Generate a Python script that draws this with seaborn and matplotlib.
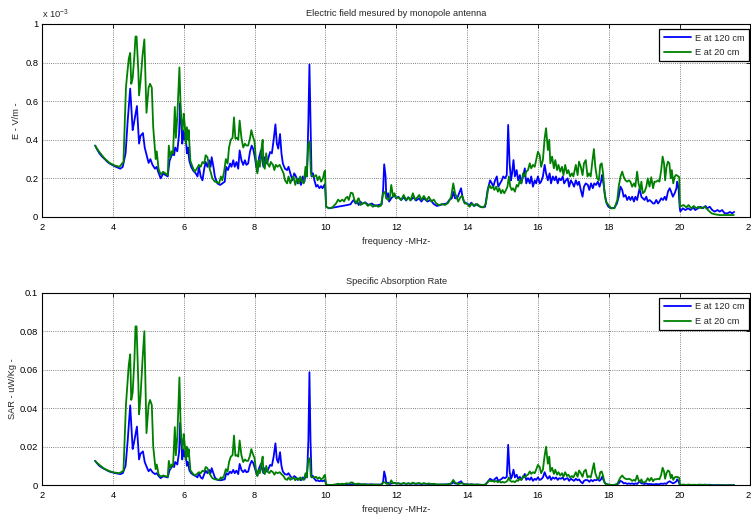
import matplotlib
matplotlib.use("Agg")
import matplotlib.pyplot as plt
from matplotlib.ticker import FuncFormatter
import seaborn as sns
import pandas as pd

# ---------------- data ----------------
blue_freq = [
    3.50, 3.55, 3.62, 3.70, 3.77, 3.85, 3.91, 4.05, 4.21, 4.28,
    4.36, 4.42, 4.49, 4.56, 4.59, 4.68, 4.74, 4.78, 4.85, 4.90,
    4.97, 5.01, 5.06, 5.12, 5.19, 5.24, 5.28, 5.35, 5.42, 5.49,
    5.55, 5.60, 5.64, 5.69, 5.73, 5.76, 5.82, 5.87, 5.90, 5.93,
    5.96, 5.98, 6.02, 6.05, 6.09, 6.12, 6.16, 6.21, 6.27, 6.34,
    6.39, 6.43, 6.48, 6.53, 6.58, 6.62, 6.67, 6.72, 6.76, 6.79,
    6.84, 6.88, 6.95, 7.03, 7.09, 7.16, 7.20, 7.25, 7.31, 7.35,
    7.40, 7.44, 7.49, 7.54, 7.58, 7.63, 7.68, 7.73, 7.77, 7.82,
    7.87, 7.92, 7.96, 8.01, 8.05, 8.08, 8.13, 8.18, 8.22, 8.25,
    8.29, 8.35, 8.40, 8.44, 8.49, 8.54, 8.59, 8.63, 8.67, 8.72,
    8.76, 8.80, 8.86, 8.92, 8.96, 9.01, 9.07, 9.12, 9.17, 9.22,
    9.26, 9.31, 9.36, 9.41, 9.44, 9.48, 9.52, 9.55, 9.58, 9.61,
    9.65, 9.69, 9.74, 9.78, 9.83, 9.88, 9.92, 9.97, 9.99, 10.02,
    10.11, 10.20, 10.34, 10.48, 10.62, 10.71, 10.76, 10.80, 10.85, 10.90,
    10.94, 10.99, 11.03, 11.12, 11.22, 11.31, 11.40, 11.49, 11.59, 11.63,
    11.66, 11.70, 11.72, 11.77, 11.80, 11.86, 11.94, 12.00, 12.06, 12.14,
    12.21, 12.28, 12.34, 12.41, 12.49, 12.56, 12.64, 12.71, 12.78, 12.88,
    12.97, 13.06, 13.15, 13.24, 13.34, 13.43, 13.50, 13.57, 13.61, 13.66,
    13.72, 13.83, 13.87, 13.91, 13.98, 14.07, 14.12, 14.19, 14.25, 14.33,
    14.42, 14.51, 14.58, 14.65, 14.70, 14.74, 14.79, 14.84, 14.88, 14.93,
    14.98, 15.02, 15.07, 15.12, 15.16, 15.20, 15.24, 15.27, 15.31, 15.35,
    15.40, 15.44, 15.49, 15.53, 15.58, 15.63, 15.67, 15.72, 15.77, 15.81,
    15.86, 15.91, 15.95, 16.00, 16.05, 16.09, 16.14, 16.19, 16.23, 16.28,
    16.33, 16.37, 16.42, 16.47, 16.51, 16.56, 16.60, 16.65, 16.70, 16.74,
    16.79, 16.84, 16.88, 16.93, 16.98, 17.02, 17.07, 17.12, 17.16, 17.21,
    17.26, 17.30, 17.35, 17.41, 17.45, 17.50, 17.55, 17.59, 17.64, 17.69,
    17.74, 17.78, 17.81, 17.85, 17.90, 17.94, 17.99, 18.07, 18.16, 18.23,
    18.28, 18.33, 18.38, 18.42, 18.47, 18.52, 18.57, 18.61, 18.66, 18.71,
    18.75, 18.80, 18.87, 18.92, 18.96, 19.01, 19.06, 19.10, 19.15, 19.20,
    19.25, 19.29, 19.34, 19.39, 19.43, 19.48, 19.53, 19.58, 19.62, 19.67,
    19.72, 19.76, 19.81, 19.86, 19.91, 19.93, 19.97, 20.00, 20.02, 20.09,
    20.16, 20.24, 20.31, 20.38, 20.44, 20.52, 20.59, 20.66, 20.73, 20.78,
    20.85, 20.92, 20.99, 21.07, 21.13, 21.20, 21.27, 21.35, 21.42, 21.48,
    21.54,
]
# E field at 120 cm, in units of 1e-3 V/m
blue_E = [
    0.370, 0.352, 0.330, 0.312, 0.300, 0.285, 0.277, 0.263, 0.250, 0.260,
    0.330, 0.500, 0.665, 0.450, 0.480, 0.575, 0.380, 0.420, 0.435, 0.360,
    0.310, 0.280, 0.300, 0.270, 0.250, 0.260, 0.234, 0.200, 0.225, 0.217,
    0.210, 0.290, 0.310, 0.330, 0.320, 0.360, 0.340, 0.430, 0.590, 0.500,
    0.380, 0.450, 0.400, 0.440, 0.330, 0.360, 0.290, 0.260, 0.240, 0.226,
    0.210, 0.260, 0.210, 0.190, 0.250, 0.285, 0.260, 0.294, 0.260, 0.310,
    0.260, 0.210, 0.174, 0.166, 0.174, 0.183, 0.260, 0.243, 0.277, 0.260,
    0.294, 0.260, 0.285, 0.250, 0.345, 0.294, 0.270, 0.294, 0.270, 0.277,
    0.337, 0.370, 0.354, 0.310, 0.260, 0.234, 0.310, 0.345, 0.294, 0.260,
    0.310, 0.277, 0.310, 0.337, 0.330, 0.400, 0.480, 0.380, 0.354, 0.430,
    0.330, 0.277, 0.250, 0.243, 0.260, 0.226, 0.190, 0.226, 0.210, 0.174,
    0.200, 0.166, 0.210, 0.183, 0.226, 0.210, 0.500, 0.790, 0.500, 0.210,
    0.226, 0.190, 0.157, 0.166, 0.149, 0.160, 0.149, 0.166, 0.170, 0.053,
    0.045, 0.048, 0.053, 0.057, 0.062, 0.066, 0.080, 0.088, 0.070, 0.080,
    0.062, 0.080, 0.067, 0.076, 0.062, 0.070, 0.057, 0.062, 0.066, 0.140,
    0.273, 0.210, 0.097, 0.123, 0.080, 0.097, 0.114, 0.097, 0.105, 0.088,
    0.102, 0.085, 0.102, 0.088, 0.102, 0.085, 0.097, 0.080, 0.097, 0.080,
    0.088, 0.067, 0.057, 0.062, 0.067, 0.070, 0.088, 0.097, 0.130, 0.097,
    0.097, 0.149, 0.105, 0.080, 0.070, 0.062, 0.074, 0.057, 0.067, 0.057,
    0.050, 0.053, 0.140, 0.190, 0.174, 0.157, 0.190, 0.210, 0.157, 0.174,
    0.190, 0.210, 0.200, 0.217, 0.477, 0.278, 0.190, 0.226, 0.295, 0.210,
    0.243, 0.190, 0.217, 0.174, 0.210, 0.252, 0.174, 0.200, 0.174, 0.210,
    0.157, 0.190, 0.174, 0.210, 0.174, 0.183, 0.210, 0.270, 0.226, 0.190,
    0.226, 0.174, 0.210, 0.190, 0.210, 0.174, 0.200, 0.190, 0.210, 0.174,
    0.190, 0.200, 0.157, 0.190, 0.174, 0.157, 0.190, 0.166, 0.183, 0.140,
    0.105, 0.157, 0.174, 0.166, 0.140, 0.174, 0.149, 0.174, 0.166, 0.183,
    0.157, 0.183, 0.218, 0.174, 0.105, 0.070, 0.053, 0.045, 0.048, 0.070,
    0.105, 0.157, 0.140, 0.105, 0.114, 0.088, 0.105, 0.088, 0.105, 0.080,
    0.105, 0.088, 0.149, 0.105, 0.097, 0.088, 0.105, 0.080, 0.088, 0.080,
    0.070, 0.070, 0.088, 0.070, 0.080, 0.097, 0.088, 0.105, 0.088, 0.131,
    0.149, 0.131, 0.105, 0.123, 0.149, 0.183, 0.149, 0.053, 0.028, 0.045,
    0.036, 0.045, 0.036, 0.050, 0.036, 0.045, 0.053, 0.045, 0.057, 0.045,
    0.053, 0.036, 0.028, 0.036, 0.028, 0.036, 0.019, 0.019, 0.026, 0.019,
    0.026,
]
# SAR for E at 120 cm (uW/Kg)
blue_SAR = [
    .0127, .0115, .0101, .0091, .0084, .0076, .0071, .0064, .0058, .0063,
    .0101, .0233, .0415, .0188, .0214, .0305, .0134, .0164, .0176, .0121,
    .0089, .0073, .0084, .0068, .0058, .0063, .0051, .0037, .0047, .0044,
    .0041, .0078, .0089, .0101, .0095, .0121, .0108, .0172, .0324, .0233,
    .0134, .0188, .0149, .0180, .0101, .0121, .0078, .0063, .0054, .0048,
    .0041, .0063, .0041, .0034, .0058, .0076, .0063, .0080, .0063, .0089,
    .0063, .0041, .0028, .0026, .0028, .0031, .0063, .0055, .0071, .0063,
    .0080, .0063, .0076, .0058, .0111, .0080, .0068, .0080, .0068, .0071,
    .0106, .0127, .0117, .0089, .0063, .0051, .0089, .0111, .0080, .0063,
    .0089, .0071, .0089, .0106, .0101, .0149, .0218, .0134, .0117, .0172,
    .0101, .0071, .0058, .0055, .0063, .0048, .0034, .0048, .0041, .0028,
    .0037, .0026, .0041, .0031, .0048, .0041, .0233, .0587, .0233, .0041,
    .0048, .0034, .0023, .0026, .0021, .0024, .0021, .0026, .0027, .0003,
    .0002, .0002, .0003, .0003, .0004, .0004, .0006, .0007, .0005, .0006,
    .0004, .0006, .0004, .0005, .0004, .0005, .0003, .0004, .0004, .0018,
    .0072, .0041, .0009, .0014, .0006, .0009, .0012, .0009, .0010, .0007,
    .0010, .0007, .0010, .0007, .0010, .0007, .0009, .0006, .0009, .0006,
    .0007, .0004, .0003, .0004, .0004, .0005, .0007, .0009, .0016, .0009,
    .0009, .0021, .0010, .0006, .0005, .0004, .0005, .0003, .0004, .0003,
    .0002, .0003, .0018, .0034, .0028, .0023, .0034, .0041, .0023, .0028,
    .0034, .0041, .0037, .0044, .0210, .0072, .0034, .0048, .0081, .0041,
    .0055, .0034, .0044, .0028, .0041, .0059, .0028, .0037, .0028, .0041,
    .0023, .0034, .0028, .0041, .0028, .0031, .0041, .0068, .0048, .0034,
    .0048, .0028, .0041, .0034, .0041, .0028, .0037, .0034, .0041, .0028,
    .0034, .0037, .0023, .0034, .0028, .0023, .0034, .0026, .0031, .0018,
    .0010, .0023, .0028, .0026, .0018, .0028, .0021, .0028, .0026, .0031,
    .0023, .0031, .0044, .0028, .0010, .0005, .0003, .0002, .0002, .0005,
    .0010, .0023, .0018, .0010, .0012, .0007, .0010, .0007, .0010, .0006,
    .0010, .0007, .0021, .0010, .0009, .0007, .0010, .0006, .0007, .0006,
    .0005, .0005, .0007, .0005, .0006, .0009, .0007, .0010, .0007, .0016,
    .0021, .0016, .0010, .0014, .0021, .0031, .0021, .0003, .0001, .0002,
    .0001, .0002, .0001, .0002, .0001, .0002, .0003, .0002, .0003, .0002,
    .0003, .0001, .0001, .0001, .0001, .0001, .0000, .0000, .0001, .0000,
    .0001,
]

green_freq = [
    3.50, 3.55, 3.62, 3.70, 3.77, 3.85, 3.91, 4.05, 4.19, 4.26,
    4.30, 4.37, 4.40, 4.45, 4.49, 4.52, 4.56, 4.61, 4.64, 4.67,
    4.72, 4.74, 4.78, 4.84, 4.89, 4.95, 5.01, 5.05, 5.10, 5.14,
    5.19, 5.21, 5.24, 5.29, 5.35, 5.42, 5.49, 5.55, 5.58, 5.62,
    5.66, 5.70, 5.75, 5.78, 5.82, 5.88, 5.92, 5.97, 6.00, 6.03,
    6.06, 6.09, 6.12, 6.14, 6.19, 6.25, 6.31, 6.37, 6.43, 6.48,
    6.53, 6.58, 6.62, 6.67, 6.72, 6.76, 6.81, 6.88, 6.95, 7.00,
    7.05, 7.09, 7.14, 7.19, 7.24, 7.28, 7.33, 7.38, 7.42, 7.46,
    7.50, 7.54, 7.58, 7.63, 7.68, 7.73, 7.77, 7.82, 7.87, 7.91,
    7.95, 8.00, 8.04, 8.08, 8.11, 8.15, 8.19, 8.23, 8.25, 8.29,
    8.33, 8.37, 8.42, 8.46, 8.52, 8.56, 8.60, 8.65, 8.71, 8.76,
    8.82, 8.86, 8.92, 8.96, 9.01, 9.06, 9.10, 9.15, 9.20, 9.25,
    9.29, 9.34, 9.39, 9.44, 9.47, 9.52, 9.56, 9.59, 9.64, 9.69,
    9.74, 9.78, 9.83, 9.88, 9.93, 9.97, 9.99, 10.02, 10.11, 10.20,
    10.30, 10.36, 10.41, 10.48, 10.53, 10.57, 10.62, 10.66, 10.72, 10.77,
    10.82, 10.87, 10.91, 10.94, 10.99, 11.05, 11.12, 11.20, 11.26, 11.34,
    11.42, 11.49, 11.57, 11.63, 11.68, 11.72, 11.77, 11.82, 11.86, 11.91,
    11.95, 12.00, 12.06, 12.14, 12.21, 12.28, 12.34, 12.40, 12.47, 12.53,
    12.60, 12.65, 12.71, 12.78, 12.86, 12.92, 12.99, 13.06, 13.13, 13.21,
    13.29, 13.38, 13.47, 13.55, 13.61, 13.66, 13.70, 13.75, 13.81, 13.86,
    13.93, 14.00, 14.07, 14.14, 14.21, 14.29, 14.37, 14.47, 14.53, 14.59,
    14.63, 14.68, 14.73, 14.77, 14.82, 14.87, 14.91, 14.96, 15.00, 15.05,
    15.10, 15.14, 15.18, 15.22, 15.26, 15.30, 15.35, 15.40, 15.44, 15.49,
    15.53, 15.58, 15.63, 15.67, 15.72, 15.77, 15.81, 15.86, 15.91, 15.95,
    16.00, 16.05, 16.09, 16.14, 16.19, 16.23, 16.28, 16.32, 16.35, 16.40,
    16.45, 16.49, 16.54, 16.58, 16.63, 16.68, 16.72, 16.77, 16.82, 16.86,
    16.91, 16.96, 17.00, 17.07, 17.12, 17.16, 17.21, 17.26, 17.30, 17.35,
    17.40, 17.44, 17.49, 17.53, 17.58, 17.62, 17.67, 17.72, 17.76, 17.80,
    17.84, 17.88, 17.92, 17.99, 18.07, 18.16, 18.24, 18.28, 18.33, 18.38,
    18.42, 18.47, 18.52, 18.57, 18.61, 18.66, 18.71, 18.75, 18.80, 18.84,
    18.89, 18.92, 18.96, 19.01, 19.06, 19.10, 19.15, 19.20, 19.25, 19.29,
    19.34, 19.39, 19.43, 19.48, 19.52, 19.56, 19.59, 19.63, 19.67, 19.71,
    19.75, 19.78, 19.82, 19.86, 19.90, 19.95, 19.99, 20.01, 20.05, 20.11,
    20.19, 20.25, 20.33, 20.40, 20.47, 20.53, 20.61, 20.71, 20.80, 20.90,
    20.99, 21.13, 21.27, 21.42, 21.53,
]
# E field at 20 cm, in units of 1e-3 V/m
green_E = [
    0.370, 0.355, 0.337, 0.318, 0.303, 0.290, 0.280, 0.267, 0.260, 0.277,
    0.285, 0.670, 0.730, 0.820, 0.850, 0.690, 0.720, 0.840, 0.935, 0.935,
    0.755, 0.630, 0.700, 0.840, 0.920, 0.540, 0.670, 0.690, 0.670, 0.465,
    0.345, 0.300, 0.340, 0.250, 0.220, 0.234, 0.225, 0.217, 0.370, 0.310,
    0.340, 0.330, 0.570, 0.410, 0.520, 0.775, 0.530, 0.450, 0.535, 0.480,
    0.380, 0.465, 0.400, 0.450, 0.290, 0.260, 0.234, 0.250, 0.270, 0.260,
    0.285, 0.277, 0.320, 0.310, 0.260, 0.234, 0.200, 0.183, 0.180, 0.174,
    0.210, 0.190, 0.234, 0.300, 0.277, 0.360, 0.400, 0.410, 0.516, 0.405,
    0.410, 0.400, 0.500, 0.410, 0.360, 0.380, 0.370, 0.370, 0.405, 0.450,
    0.420, 0.390, 0.294, 0.226, 0.294, 0.260, 0.345, 0.400, 0.277, 0.250,
    0.330, 0.277, 0.260, 0.285, 0.270, 0.243, 0.270, 0.260, 0.270, 0.250,
    0.226, 0.190, 0.174, 0.210, 0.174, 0.200, 0.210, 0.166, 0.200, 0.174,
    0.210, 0.183, 0.174, 0.260, 0.210, 0.380, 0.390, 0.226, 0.210, 0.210,
    0.217, 0.190, 0.210, 0.183, 0.200, 0.234, 0.240, 0.053, 0.045, 0.050,
    0.070, 0.090, 0.080, 0.090, 0.080, 0.097, 0.105, 0.088, 0.126, 0.123,
    0.088, 0.070, 0.090, 0.097, 0.062, 0.070, 0.074, 0.057, 0.067, 0.053,
    0.062, 0.053, 0.059, 0.123, 0.130, 0.097, 0.088, 0.102, 0.166, 0.105,
    0.123, 0.097, 0.102, 0.088, 0.114, 0.088, 0.102, 0.085, 0.123, 0.090,
    0.102, 0.114, 0.088, 0.109, 0.085, 0.105, 0.080, 0.090, 0.070, 0.062,
    0.067, 0.062, 0.074, 0.105, 0.174, 0.123, 0.105, 0.080, 0.102, 0.110,
    0.070, 0.070, 0.053, 0.070, 0.057, 0.067, 0.053, 0.050, 0.070, 0.140,
    0.166, 0.149, 0.157, 0.140, 0.157, 0.131, 0.149, 0.123, 0.140, 0.123,
    0.140, 0.157, 0.210, 0.157, 0.140, 0.149, 0.131, 0.166, 0.157, 0.190,
    0.174, 0.226, 0.210, 0.235, 0.243, 0.278, 0.252, 0.270, 0.260, 0.295,
    0.338, 0.320, 0.260, 0.295, 0.408, 0.460, 0.347, 0.400, 0.278, 0.313,
    0.252, 0.295, 0.243, 0.270, 0.235, 0.260, 0.217, 0.270, 0.226, 0.243,
    0.210, 0.226, 0.210, 0.270, 0.217, 0.287, 0.260, 0.217, 0.278, 0.295,
    0.210, 0.226, 0.210, 0.278, 0.352, 0.260, 0.200, 0.190, 0.270, 0.278,
    0.226, 0.123, 0.080, 0.062, 0.045, 0.045, 0.088, 0.157, 0.209, 0.235,
    0.209, 0.190, 0.183, 0.190, 0.183, 0.157, 0.174, 0.157, 0.235, 0.174,
    0.140, 0.183, 0.123, 0.131, 0.157, 0.200, 0.157, 0.206, 0.149, 0.183,
    0.183, 0.190, 0.183, 0.243, 0.313, 0.278, 0.190, 0.260, 0.287, 0.278,
    0.200, 0.243, 0.174, 0.209, 0.218, 0.212, 0.206, 0.053, 0.057, 0.062,
    0.050, 0.062, 0.045, 0.057, 0.045, 0.053, 0.045, 0.053, 0.036, 0.019,
    0.014, 0.010, 0.010, 0.010, 0.010,
]
# SAR for E at 20 cm (uW/Kg)
green_SAR = [
    .0127, .0117, .0106, .0094, .0085, .0078, .0073, .0066, .0063, .0071,
    .0076, .0417, .0496, .0625, .0680, .0443, .0482, .0656, .0825, .0825,
    .0530, .0369, .0456, .0656, .0800, .0271, .0417, .0443, .0417, .0201,
    .0111, .0084, .0108, .0058, .0045, .0051, .0047, .0044, .0127, .0089,
    .0108, .0101, .0302, .0156, .0251, .0560, .0261, .0188, .0266, .0214,
    .0134, .0201, .0149, .0188, .0078, .0063, .0051, .0058, .0068, .0063,
    .0076, .0071, .0095, .0089, .0063, .0051, .0037, .0031, .0030, .0028,
    .0041, .0034, .0051, .0084, .0071, .0121, .0149, .0156, .0258, .0153,
    .0156, .0149, .0233, .0156, .0121, .0134, .0127, .0127, .0153, .0188,
    .0164, .0141, .0080, .0048, .0080, .0063, .0111, .0149, .0071, .0058,
    .0101, .0071, .0063, .0076, .0068, .0055, .0068, .0063, .0068, .0058,
    .0048, .0034, .0028, .0041, .0028, .0037, .0041, .0026, .0037, .0028,
    .0041, .0031, .0028, .0063, .0041, .0134, .0141, .0048, .0041, .0041,
    .0044, .0034, .0041, .0031, .0037, .0051, .0054, .0003, .0002, .0002,
    .0005, .0008, .0006, .0008, .0006, .0009, .0010, .0007, .0015, .0014,
    .0007, .0005, .0008, .0009, .0004, .0005, .0005, .0003, .0004, .0003,
    .0004, .0003, .0003, .0014, .0016, .0009, .0007, .0010, .0026, .0010,
    .0014, .0009, .0010, .0007, .0012, .0007, .0010, .0007, .0014, .0008,
    .0010, .0012, .0007, .0011, .0007, .0010, .0006, .0008, .0005, .0004,
    .0004, .0004, .0005, .0010, .0028, .0014, .0010, .0006, .0010, .0011,
    .0005, .0005, .0003, .0005, .0003, .0004, .0003, .0002, .0005, .0018,
    .0026, .0021, .0023, .0018, .0023, .0016, .0021, .0014, .0018, .0014,
    .0018, .0023, .0041, .0023, .0018, .0021, .0016, .0026, .0023, .0034,
    .0028, .0048, .0041, .0051, .0055, .0072, .0059, .0068, .0063, .0081,
    .0106, .0095, .0063, .0081, .0155, .0200, .0112, .0149, .0072, .0091,
    .0059, .0081, .0055, .0068, .0051, .0063, .0044, .0068, .0048, .0055,
    .0041, .0048, .0041, .0068, .0044, .0077, .0063, .0044, .0072, .0081,
    .0041, .0048, .0041, .0072, .0115, .0063, .0037, .0034, .0068, .0072,
    .0048, .0014, .0006, .0004, .0002, .0002, .0007, .0023, .0041, .0051,
    .0041, .0034, .0031, .0034, .0031, .0023, .0028, .0023, .0051, .0028,
    .0018, .0031, .0014, .0016, .0023, .0037, .0023, .0039, .0021, .0031,
    .0031, .0034, .0031, .0055, .0091, .0072, .0034, .0063, .0077, .0072,
    .0037, .0055, .0028, .0041, .0044, .0042, .0039, .0003, .0003, .0004,
    .0002, .0004, .0002, .0003, .0002, .0003, .0002, .0003, .0001, .0000,
    .0000, .0000, .0000, .0000, .0000,
]

series_labels = ["E at 120 cm", "E at 20 cm"]
series_colors = ["#0000ff", "#008000"]
x_ticks = [2, 4, 6, 8, 10, 12, 14, 16, 18, 20, 22]
top_yticks = [0, 0.2, 0.4, 0.6, 0.8, 1.0]
bottom_yticks = [0, 0.02, 0.04, 0.06, 0.08, 0.1]

blue_df = pd.DataFrame({"f": blue_freq, "E": blue_E, "SAR": blue_SAR})
green_df = pd.DataFrame({"f": green_freq, "E": green_E, "SAR": green_SAR})

# ---------------- styling ----------------
sns.set_theme(style="white")
FONT = ["Liberation Sans", "DejaVu Sans"]
plt.rcParams["font.family"] = FONT
plt.rcParams["mathtext.fontset"] = "custom"
plt.rcParams["mathtext.rm"] = "Liberation Sans"
plt.rcParams["mathtext.it"] = "Liberation Sans"
plt.rcParams["mathtext.bf"] = "Liberation Sans"
FS = 6.7

fig = plt.figure(figsize=(7.51, 5.16), dpi=100)
fig.patch.set_facecolor("white")
ax1 = fig.add_axes([0.0559, 0.5795, 0.9434, 0.374])
ax2 = fig.add_axes([0.0559, 0.0595, 0.9434, 0.3733])

fmt = FuncFormatter(lambda v, p: f"{v:g}")

def style_axis(ax, yticks, ylim):
    ax.set_facecolor("white")
    ax.set_xlim(2, 22)
    ax.set_ylim(*ylim)
    ax.set_xticks(x_ticks)
    ax.set_yticks(yticks)
    ax.yaxis.set_major_formatter(fmt)
    ax.xaxis.set_major_formatter(fmt)
    ax.grid(True, color="0.35", linestyle=(0, (1, 1.6)), linewidth=0.6)
    ax.set_axisbelow(True)
    for s in ax.spines.values():
        s.set_visible(True)
        s.set_color("black")
        s.set_linewidth(0.8)
    ax.tick_params(axis="both", direction="in", length=2.8, width=0.6,
                   top=True, right=True, labelsize=FS, colors="black")
    ax.tick_params(axis="x", pad=4.3)
    ax.tick_params(axis="y", pad=2.7)

for ax, col, ylim, yt in [
    (ax1, "E", (0, 1), top_yticks),
    (ax2, "SAR", (0, 0.1), bottom_yticks),
]:
    sns.lineplot(data=blue_df, x="f", y=col, ax=ax, color=series_colors[0],
                 linewidth=1.3, label=series_labels[0], sort=False,
                 estimator=None)
    sns.lineplot(data=green_df, x="f", y=col, ax=ax, color=series_colors[1],
                 linewidth=1.3, label=series_labels[1], sort=False,
                 estimator=None)
    style_axis(ax, yt, ylim)
    leg = ax.legend(loc="upper right", bbox_to_anchor=(0.998, 0.972),
                    borderaxespad=0, fancybox=False, edgecolor="black",
                    framealpha=1, fontsize=FS, handlelength=2.9,
                    handletextpad=0.5, labelspacing=0.6, borderpad=0.45)
    leg.get_frame().set_linewidth(0.9)
    ax.set_xlabel("frequency -MHz-", fontsize=FS, labelpad=3.3)

ax1.set_title("Electric field mesured by monopole antenna", fontsize=FS, pad=5.5)
ax2.set_title("Specific Absorption Rate", fontsize=FS, pad=6)
ax1.set_ylabel("E - V/m -", fontsize=FS, labelpad=3.3)
ax2.set_ylabel("SAR - uW/Kg -", fontsize=FS, labelpad=2.3)
ax1.text(0.0, 1.031, r"x 10$^{-3}$", transform=ax1.transAxes, fontsize=FS,
         ha="left", va="baseline")

fig.savefig("out.png", dpi=100, facecolor="white")
